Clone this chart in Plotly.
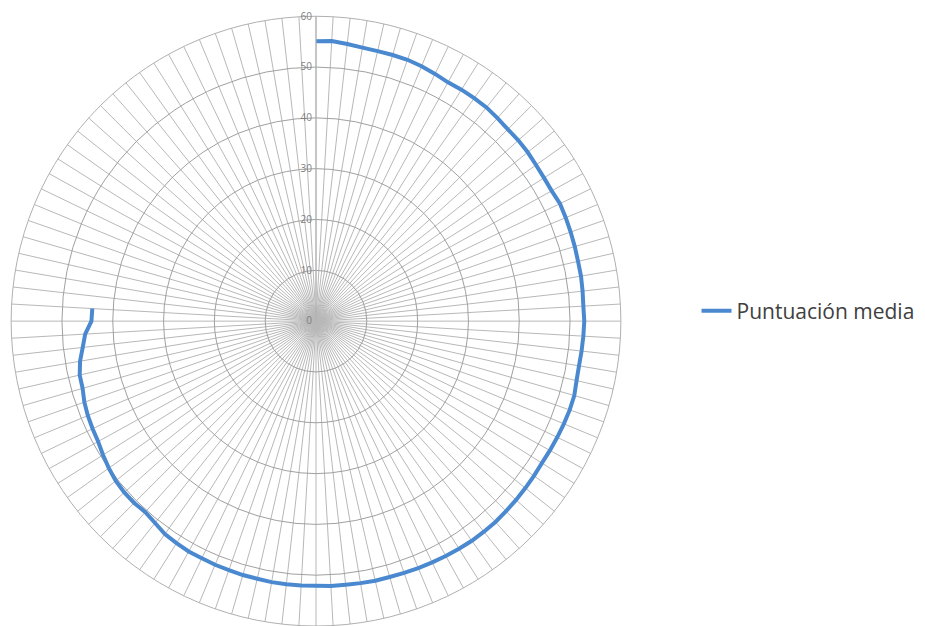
import plotly.graph_objects as go

# Item labels for every spoke of the radar (112 items)
items = [str(i) for i in range(1, 113)]

# Mean score per item (only the first 86 items have a value)
puntuacion_media = [
    55.1, 55.2, 54.9, 54.6, 54.5, 54.5, 54.5, 54.3, 54.0, 53.7,
    53.8, 53.8, 53.8, 53.6, 53.4, 53.4, 53.3, 53.1, 53.0, 53.0,
    53.3, 53.2, 53.1, 53.0, 52.9, 52.9, 52.8, 52.7, 52.8, 52.7,
    52.6, 52.5, 52.6, 52.9, 52.9, 52.8, 52.7, 52.6, 52.5, 52.6,
    52.7, 52.8, 52.9, 53.0, 53.0, 53.0, 52.9, 52.8, 52.7, 52.6,
    52.5, 52.4, 52.4, 52.3, 52.2, 52.2, 52.1, 52.1, 52.1, 52.1,
    52.0, 52.0, 51.9, 51.9, 51.8, 51.8, 51.6, 51.4, 50.8, 50.4,
    50.6, 50.6, 50.4, 50.0, 49.5, 49.0, 48.8, 48.6, 48.3, 47.8,
    47.7, 47.1, 46.2, 45.5, 44.2, 44.1,
]

radial_ticks = [0, 10, 20, 30, 40, 50, 60]

fig = go.Figure()
fig.add_trace(go.Scatterpolar(
    r=puntuacion_media,
    theta=items[:len(puntuacion_media)],
    mode="lines",
    name="Puntuación media",
    line=dict(color="#4a89cf", width=4),
))

fig.update_layout(
    width=925,
    height=626,
    margin=dict(l=0, r=0, t=0, b=0),
    paper_bgcolor="white",
    plot_bgcolor="white",
    font=dict(family="Open Sans, sans-serif", color="#595959"),
    polar=dict(
        domain=dict(x=[11 / 925, 621 / 925], y=[0.0, 0.974]),
        bgcolor="white",
        angularaxis=dict(
            type="category",
            categoryarray=items,
            direction="clockwise",
            rotation=90,
            showticklabels=False,
            ticks="",
            showgrid=True,
            gridcolor="#b8b8b8",
            gridwidth=1,
            showline=True,
            linecolor="#b0b0b0",
            linewidth=1,
        ),
        radialaxis=dict(
            range=[0, 60],
            tickvals=radial_ticks,
            ticktext=[str(v) for v in radial_ticks],
            angle=90,
            side="counterclockwise",
            tickangle=90,
            ticks="",
            showline=True,
            linecolor="#b0b0b0",
            linewidth=1,
            showgrid=True,
            gridcolor="#a0a0a0",
            gridwidth=1,
            tickfont=dict(size=10, color="#7f7f7f"),
        ),
    ),
    showlegend=True,
    legend=dict(
        x=0.753,
        y=0.503,
        xanchor="left",
        yanchor="middle",
        font=dict(size=21, color="#404040"),
        bgcolor="rgba(0,0,0,0)",
    ),
)

fig.write_html("out.html")
